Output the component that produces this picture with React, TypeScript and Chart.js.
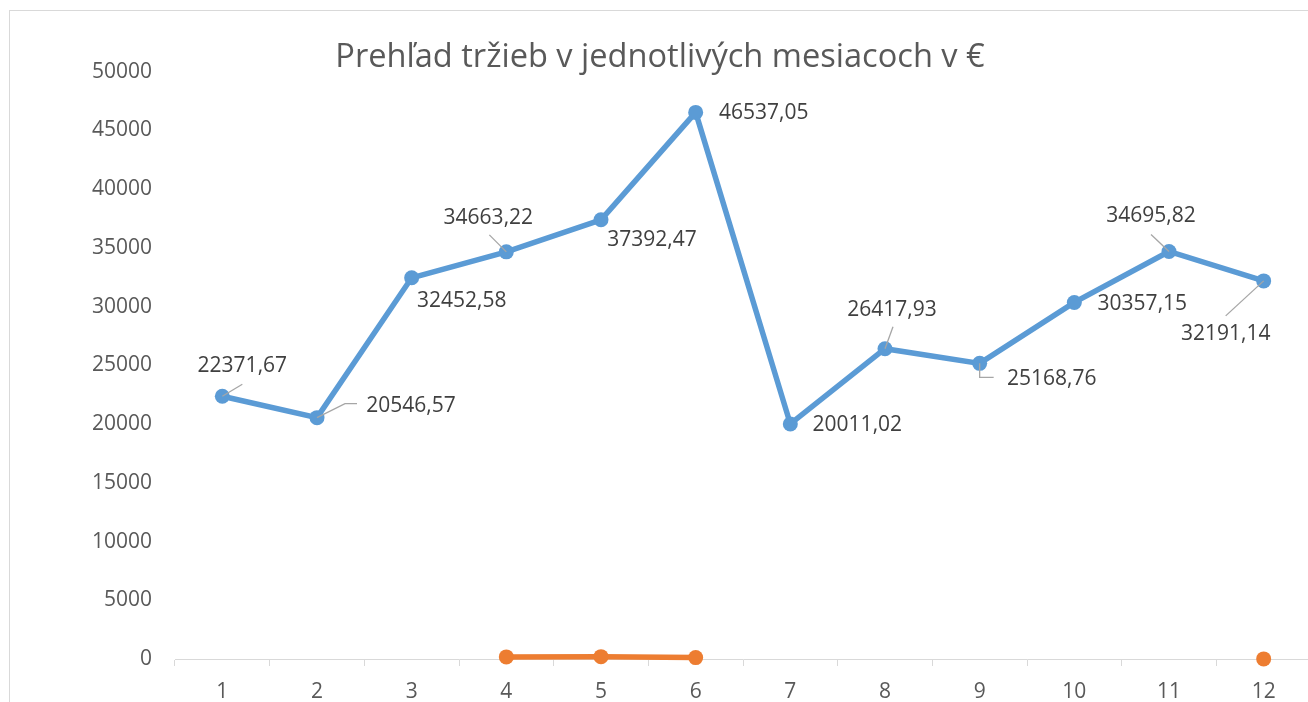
import React, { useEffect, useRef } from 'react';
import { Chart, registerables } from 'chart.js';

Chart.register(...registerables);

const months = ['1', '2', '3', '4', '5', '6', '7', '8', '9', '10', '11', '12'];
const sales = [22371.67, 20546.57, 32452.58, 34663.22, 37392.47, 46537.05, 20011.02, 26417.93, 25168.76, 30357.15, 34695.82, 32191.14];
const secondSeries: (number | null)[] = [null, null, null, 180, 200, 120, null, null, null, null, null, 10];
const titleText = 'Prehľad tržieb v jednotlivých mesiacoch v €';

// label placement relative to each point (text centre offset), and leader-line polylines
const labelOffsets: [number, number][] = [
  [20, -30], [94, -12], [50, 23], [-18, -34], [51, 20], [68, 1],
  [67, 1], [7, -39], [72, 16], [68, 2], [-18, -35], [-38, 53],
];
const leaders: ([number, number][] | null)[] = [
  [[0, 0], [20, -12]],
  [[0, 0], [28, -14], [40, -14]],
  null,
  [[0, 0], [-17, -17]],
  null,
  null,
  null,
  [[0, 0], [8, -22]],
  [[0, 0], [0, 14], [14, 14]],
  null,
  [[0, 0], [-18, -17]],
  [[0, 0], [-38, 35]],
];

const FONT = "'Open Sans', sans-serif";
const CANVAS_W = 1320;
const CANVAS_H = 720;
const PAD_LEFT = 9;

const fmt = (v: number) => v.toFixed(2).replace('.', ',');

const borderPlugin = {
  id: 'outerBorder',
  beforeDraw(chart: any) {
    const ctx = chart.ctx;
    ctx.save();
    ctx.fillStyle = '#ffffff';
    ctx.fillRect(0, 0, chart.width, chart.height);
    ctx.strokeStyle = '#d9d9d9';
    ctx.lineWidth = 1;
    ctx.strokeRect(9.5, 10.5, chart.width + 20, chart.height + 20);
    ctx.restore();
  },
};

const labelPlugin = {
  id: 'pointLabels',
  afterDatasetsDraw(chart: any) {
    const ctx = chart.ctx;
    const meta = chart.getDatasetMeta(0);
    ctx.save();
    meta.data.forEach((pt: any, i: number) => {
      const lead = leaders[i];
      if (lead) {
        ctx.beginPath();
        ctx.strokeStyle = '#a6a6a6';
        ctx.lineWidth = 1.3;
        lead.forEach(([dx, dy], k) => {
          if (k === 0) ctx.moveTo(pt.x + dx, pt.y + dy);
          else ctx.lineTo(pt.x + dx, pt.y + dy);
        });
        ctx.stroke();
      }
      const [ox, oy] = labelOffsets[i];
      ctx.fillStyle = '#404040';
      ctx.font = `21px ${FONT}`;
      ctx.textAlign = 'center';
      ctx.textBaseline = 'middle';
      ctx.fillText(fmt(sales[i]), pt.x + ox, pt.y + oy);
    });
    ctx.restore();
  },
};

export default function App() {
  const ref = useRef<HTMLCanvasElement | null>(null);

  useEffect(() => {
    if (!ref.current) return;
    const chart = new Chart(ref.current, {
      type: 'line',
      data: {
        labels: months,
        datasets: [
          {
            label: 'Tržby',
            data: sales,
            borderColor: '#5b9bd5',
            backgroundColor: '#5b9bd5',
            borderWidth: 5.5,
            pointRadius: 7.5,
            pointBorderWidth: 0,
            pointBackgroundColor: '#5b9bd5',
            tension: 0,
            clip: false,
          },
          {
            label: 'Séria 2',
            data: secondSeries,
            borderColor: '#ed7d31',
            backgroundColor: '#ed7d31',
            borderWidth: 5.5,
            pointRadius: 7.5,
            pointBorderWidth: 0,
            pointBackgroundColor: '#ed7d31',
            tension: 0,
            spanGaps: false,
            clip: false,
          },
        ],
      },
      options: {
        animation: false,
        responsive: false,
        devicePixelRatio: 1,
        layout: { padding: { left: PAD_LEFT, right: CANVAS_W - 1311, top: 0, bottom: 0 } },
        plugins: {
          legend: { display: false },
          tooltip: { enabled: false },
          title: {
            display: true,
            text: titleText,
            color: '#595959',
            font: { family: FONT, size: 32.6, weight: 'normal', lineHeight: 0.85 },
            padding: { top: 44, bottom: 0 },
          },
        },
        scales: {
          x: {
            offset: true,
            grid: {
              display: true,
              offset: true,
              drawOnChartArea: false,
              drawTicks: true,
              tickLength: 7,
              color: '#d9d9d9',
              lineWidth: 1,
            },
            border: { display: true, color: '#d9d9d9', width: 1 },
            ticks: {
              color: '#595959',
              font: { family: FONT, size: 21 },
              padding: 13,
              maxRotation: 0,
              autoSkip: false,
            },
            afterFit(scale: any) {
              scale.height = CANVAS_H - 659;
            },
          },
          y: {
            min: 0,
            max: 50000,
            grid: { display: false, drawTicks: false },
            border: { display: false },
            ticks: {
              stepSize: 5000,
              color: '#595959',
              font: { family: FONT, size: 21 },
              padding: 23,
              callback: (v: any) => String(v),
            },
            afterFit(scale: any) {
              scale.width = 175 - PAD_LEFT;
            },
          },
        },
      },
      plugins: [borderPlugin, labelPlugin],
    });
    return () => chart.destroy();
  }, []);

  return (
    <div style={{ position: 'absolute', left: 0, top: 0, width: 1308, height: 702, overflow: 'hidden', background: '#fff' }}>
      <canvas ref={ref} width={CANVAS_W} height={CANVAS_H} style={{ display: 'block', width: CANVAS_W, height: CANVAS_H }} />
    </div>
  );
}
